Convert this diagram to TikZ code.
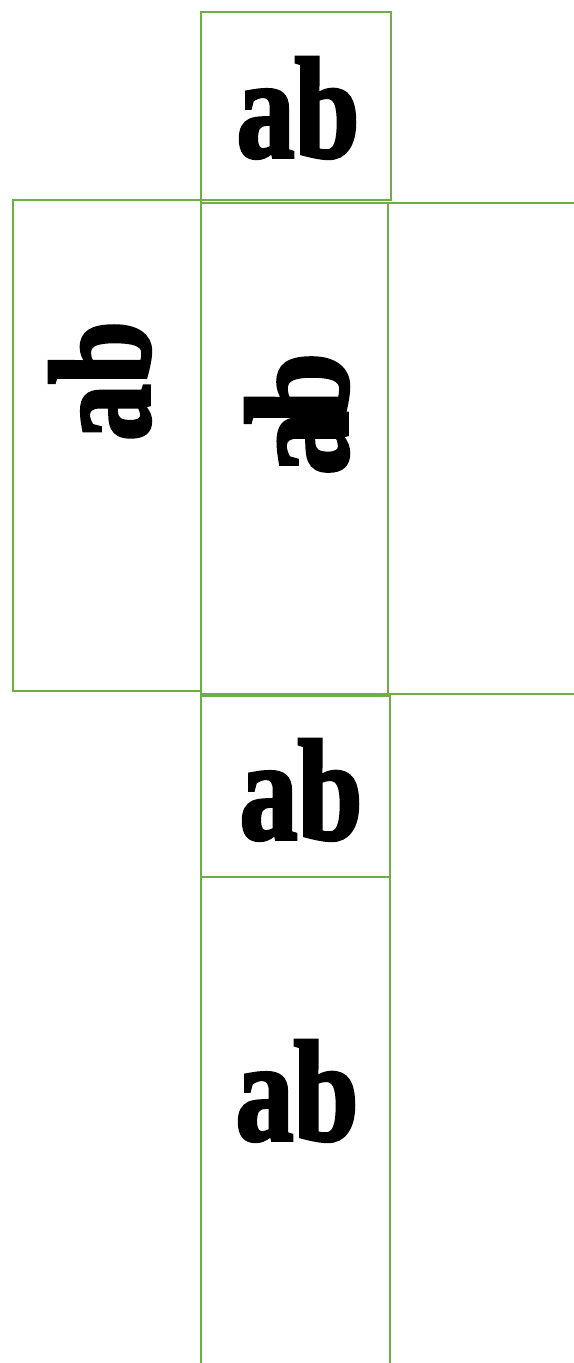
\documentclass[tikz,border=0pt]{standalone}
\usepackage{fontspec}
\newfontfamily\abfont{Liberation Serif Bold}[FakeBold=2.5]

\begin{document}
\begin{tikzpicture}[x=0.02cm,y=-0.02cm,
    face/.style={draw=netgreen,line width=1.5pt},
    ab/.style={inner sep=0,anchor=base,font=\abfont\fontsize{85}{85}\selectfont}]
    \definecolor{netgreen}{RGB}{112,173,71}
    \clip (0,0) rectangle (574,1363);
    % faces of the net
    \draw[face] (201,12) rectangle (391,200);
    \draw[face] (13,200) rectangle (201,691);
    \draw[face] (201,203) rectangle (388,694);
    \draw[face] (388,203) rectangle (600,694);
    \draw[face] (201,696) rectangle (390,877);
    \draw[face] (201,877) rectangle (390,1400);
    % labels
    \node[ab] (topab) at (298,157) {\scalebox{0.78}[0.96]{ab}};
    \node[ab,rotate=90] (leftab) at (149,381) {\scalebox{0.76}[0.96]{ab}};
    \node[ab,rotate=90] (midab) at (347,414) {\scalebox{0.86}[0.98]{a\kern-0.1em b}};
    \node[ab] (belowab) at (301,839) {\scalebox{0.78}[0.96]{ab}};
    \node[ab] (bottomab) at (297,1140) {\scalebox{0.78}[0.96]{ab}};
\end{tikzpicture}
\end{document}
